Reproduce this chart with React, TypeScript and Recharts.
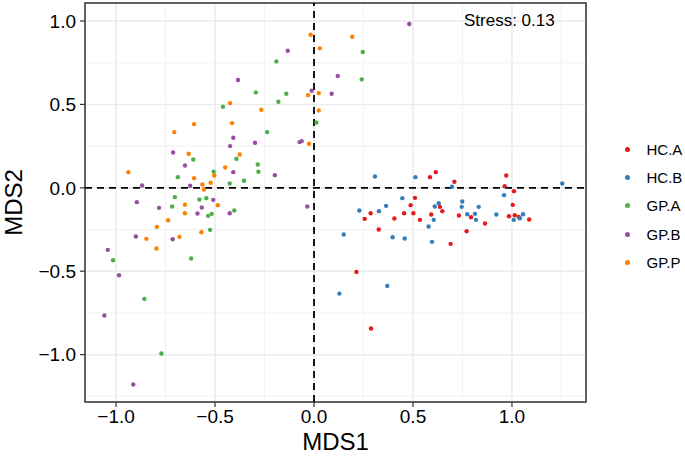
import {
  CartesianGrid,
  ReferenceArea,
  ReferenceLine,
  Scatter,
  ScatterChart,
  XAxis,
  YAxis,
} from "recharts";

const FONT = '"Liberation Sans", Arial, Helvetica, sans-serif';

const GROUPS = ["HC.A", "HC.B", "GP.A", "GP.B", "GP.P"];
const COLORS = [
  "#E41A1C", // red
  "#377EB8", // blue
  "#4DAF4A", // green
  "#984EA3", // purple
  "#FF7F00", // orange
];

// [MDS1, MDS2] per group
const hcA: [number, number][] = [
  [0.586, 0.064], [0.615, 0.094], [0.51, -0.06], [0.488, -0.104], [0.286, -0.152],
  [0.455, -0.152], [0.502, -0.152], [0.636, -0.114], [0.648, -0.14], [0.592, -0.16],
  [0.256, -0.186], [0.406, -0.184], [0.535, -0.192], [0.327, -0.25], [0.69, -0.336],
  [0.214, -0.504], [0.288, -0.843], [0.971, 0.074], [0.709, 0.036], [0.963, 0.01],
  [1.01, -0.02], [1.004, -0.102], [0.732, -0.166], [0.793, -0.176], [0.985, -0.17],
  [1.014, -0.164], [1.034, -0.174], [1.087, -0.19], [0.864, -0.214], [0.771, -0.26],
];
const hcB: [number, number][] = [
  [0.308, 0.068], [0.512, 0.064], [0.446, -0.062], [0.364, -0.108], [0.229, -0.136],
  [0.328, -0.14], [0.61, -0.112], [0.63, -0.092], [0.605, -0.192], [0.579, -0.232],
  [0.15, -0.28], [0.397, -0.296], [0.458, -0.304], [0.596, -0.324], [0.37, -0.588],
  [0.128, -0.634], [0.697, 0.006], [1.254, 0.026], [0.96, -0.044], [0.749, -0.082],
  [0.746, -0.114], [0.832, -0.114], [0.774, -0.158], [0.813, -0.156], [0.818, -0.192],
  [0.921, -0.16], [1.056, -0.158], [1.009, -0.192], [1.04, -0.182],
];
const gpA: [number, number][] = [
  [-0.61, 0.17], [-0.688, 0.064], [-0.703, -0.056], [-0.579, -0.07], [-0.19, 0.758],
  [-0.294, 0.572], [-0.14, 0.564], [-0.18, 0.516], [-0.46, 0.486], [0.012, 0.392],
  [-0.237, 0.334], [-0.392, 0.174], [-0.284, 0.14], [-0.507, 0.096], [-0.281, 0.096],
  [-0.354, 0.042], [-0.426, 0.026], [-0.544, -0.062], [-0.535, -0.168], [-0.517, -0.156],
  [-0.403, -0.136], [-0.525, -0.252], [-0.621, -0.424], [-0.717, -0.112], [-1.015, -0.434],
  [-0.857, -0.666], [-0.771, -0.993], [0.246, 0.814], [0.241, 0.65],
];
const gpB: [number, number][] = [
  [-0.712, 0.212], [-0.652, 0.134], [-0.869, 0.014], [-0.626, 0.012], [-0.133, 0.822],
  [-0.384, 0.646], [-0.012, 0.582], [-0.408, 0.3], [-0.298, 0.27], [-0.062, 0.28],
  [-0.073, 0.274], [-0.424, 0.25], [-0.408, 0.094], [-0.198, 0.076], [-0.509, -0.072],
  [-0.567, -0.118], [-0.589, -0.154], [-0.426, -0.152], [-0.034, -0.112], [-0.783, -0.12],
  [-0.895, -0.086], [-0.9, -0.292], [-0.714, -0.308], [-1.042, -0.372], [-0.985, -0.524],
  [-1.059, -0.765], [-0.913, -1.179], [0.481, 0.982], [0.12, 0.67], [0.089, 0.564],
];
const gpP: [number, number][] = [
  [-0.606, 0.382], [-0.706, 0.334], [-0.633, 0.204], [-0.606, 0.058], [-0.938, 0.094],
  [-0.564, 0.02], [-0.017, 0.918], [0.029, 0.836], [0.024, 0.568], [-0.03, 0.556],
  [-0.424, 0.508], [-0.266, 0.468], [0.024, 0.464], [-0.414, 0.388], [-0.025, 0.264],
  [-0.375, 0.2], [-0.449, 0.122], [-0.504, 0.074], [-0.522, 0.03], [-0.556, -0.01],
  [-0.486, -0.104], [-0.569, -0.266], [-0.652, -0.101], [-0.652, -0.152], [-0.737, -0.194],
  [-0.794, -0.234], [-0.847, -0.306], [-0.68, -0.294], [-0.796, -0.364], [0.193, 0.906],
];

const SERIES = [hcA, hcB, gpA, gpB, gpP];

const X_DOMAIN = [-1.157, 1.374];
const Y_DOMAIN = [-1.284, 1.108];
const X_TICKS = [-1, -0.5, 0, 0.5, 1];
const Y_TICKS = [-1, -0.5, 0, 0.5, 1];
const X_MINOR = [-0.75, -0.25, 0.25, 0.75, 1.25];
const Y_MINOR = [-1.25, -0.75, -0.25, 0.25, 0.75];

const fmt = (v: number) => (v < 0 ? "\u2212" : "") + Math.abs(v).toFixed(1);

const tickStyle = { fill: "#000", fontSize: 19, fontFamily: FONT };

function LegendBox() {
  return (
    <div
      style={{
        position: "absolute",
        left: 615,
        top: 135,
        fontFamily: FONT,
        fontSize: 15,
        color: "#000",
      }}
    >
      {GROUPS.map((g, i) => (
        <div
          key={g}
          style={{ height: 28.3, display: "flex", alignItems: "center" }}
        >
          <span
            style={{
              width: 5,
              height: 5,
              borderRadius: "50%",
              background: COLORS[i],
              marginLeft: 9.5,
              marginRight: 17,
            }}
          />
          <span>{g}</span>
        </div>
      ))}
    </div>
  );
}

export default function App() {
  return (
    <div
      style={{
        position: "absolute",
        left: 0,
        top: 0,
        width: 685,
        height: 458,
        background: "#fff",
      }}
    >
      <ScatterChart
        width={685}
        height={458}
        margin={{ top: 3, right: 99, bottom: 0, left: 0 }}
      >
        <XAxis xAxisId="minor" type="number" dataKey="x" domain={X_DOMAIN} ticks={X_MINOR} allowDataOverflow hide />
        <YAxis yAxisId="minor" type="number" dataKey="y" domain={Y_DOMAIN} ticks={Y_MINOR} allowDataOverflow hide />
        <CartesianGrid xAxisId="minor" yAxisId="minor" stroke="#ededed" strokeWidth={0.8} />
        <CartesianGrid stroke="#ebebeb" strokeWidth={1.5} />
        <XAxis
          type="number"
          dataKey="x"
          domain={X_DOMAIN}
          ticks={X_TICKS}
          allowDataOverflow
          tickFormatter={fmt}
          axisLine={false}
          tickLine={{ stroke: "#333", strokeWidth: 1.2 }}
          tickSize={5}
          tickMargin={3}
          height={56}
          tick={tickStyle}
          label={{
            value: "MDS1",
            position: "insideBottom",
            offset: 8,
            style: { fontSize: 24, fontFamily: FONT, fill: "#000" },
          }}
        />
        <YAxis
          type="number"
          dataKey="y"
          domain={Y_DOMAIN}
          ticks={Y_TICKS}
          allowDataOverflow
          tickFormatter={fmt}
          axisLine={false}
          tickLine={{ stroke: "#333", strokeWidth: 1.2 }}
          tickSize={5}
          tickMargin={4}
          width={85}
          tick={tickStyle}
          label={{
            value: "MDS2",
            angle: -90,
            position: "insideLeft",
            offset: 13,
            style: { textAnchor: "middle", fontSize: 24, fontFamily: FONT, fill: "#000" },
          }}
        />
        {SERIES.map((pts, i) => (
          <Scatter
            key={GROUPS[i]}
            name={GROUPS[i]}
            data={pts.map(([x, y]) => ({ x, y }))}
            fill={COLORS[i]}
            isAnimationActive={false}
            shape={(p: any) => <circle cx={p.cx} cy={p.cy} r={2.2} fill={COLORS[i]} />}
          />
        ))}
        <ReferenceLine x={0} stroke="#000" strokeWidth={1.8} strokeDasharray="7 5" />
        <ReferenceLine y={0} stroke="#000" strokeWidth={1.8} strokeDasharray="7 5" />
        <ReferenceArea
          x1={X_DOMAIN[0]}
          x2={X_DOMAIN[1]}
          y1={Y_DOMAIN[0]}
          y2={Y_DOMAIN[1]}
          fill="none"
          fillOpacity={0}
          stroke="#333"
          strokeWidth={1.5}
        />
      </ScatterChart>
      <LegendBox />
      <div
        style={{
          position: "absolute",
          left: 464,
          top: 12,
          fontFamily: FONT,
          fontSize: 17,
          lineHeight: "18px",
          color: "#000",
        }}
      >
        Stress: 0.13
      </div>
    </div>
  );
}
